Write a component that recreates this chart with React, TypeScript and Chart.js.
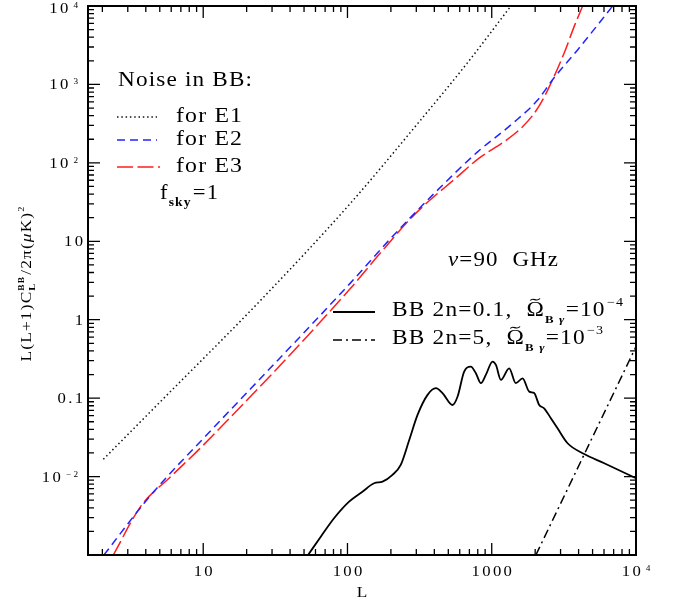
import React, { useEffect, useRef } from 'react';
import { Chart, registerables } from 'chart.js';
Chart.register(...registerables);

const FONT = '"Liberation Serif", "Times New Roman", serif';

// ---- data ----
const e1L = [2.03, 4.81, 25.8, 105, 322, 662, 1358];
const e1C = [0.0166, 0.0824, 1.88, 30.6, 353, 1780, 10000];

const e2L = [2.05, 3.89, 5.5, 10, 105, 205, 399, 798, 1358, 2080, 2640, 3936, 6890];
const e2C = [0.001, 0.00457, 0.00955, 0.0305, 2.95, 11.5, 40.7, 138, 305, 631, 1148, 2754, 10000];

const e3L = [2.38, 3.69, 5.96, 10, 105, 161, 290, 579, 818, 1219, 1592, 1968, 2249, 2640, 3177, 3730, 4266];
const e3C = [0.001, 0.00417, 0.0100, 0.0251, 2.51, 6.38, 21.7, 66.8, 115, 186, 275, 427, 631, 1148, 2512, 5495, 10000];

const bb1L = [53.3, 65.3, 80.7, 102.6, 127, 153, 175, 205, 234, 268, 306, 359, 410, 456, 535, 579, 644, 716, 776, 841, 910, 1013, 1069, 1157, 1321, 1469, 1636, 1819, 1968, 2133, 2307, 2570, 2858, 3356, 4375, 6025, 10000];
const bb1C = [0.001, 0.00171, 0.00294, 0.00479, 0.00641, 0.00822, 0.00861, 0.0105, 0.0141, 0.0293, 0.0611, 0.110, 0.134, 0.116, 0.0818, 0.104, 0.218, 0.252, 0.208, 0.155, 0.198, 0.292, 0.265, 0.171, 0.240, 0.155, 0.179, 0.121, 0.116, 0.0818, 0.0743, 0.0555, 0.0413, 0.0266, 0.0194, 0.0148, 0.00951];

const bb2L = [2023, 10000];
const bb2C = [0.001, 0.454];

const xTickVals = [10, 100, 1000, 10000];
const xTickBase = ['10', '100', '1000', '10'];
const xTickExp = ['', '', '', '4'];

const yTickVals = [0.01, 0.1, 1, 10, 100, 1000, 10000];
const yTickBase = ['10', '0.1', '1', '10', '10', '10', '10'];
const yTickExp = ['\u22122', '', '', '', '2', '3', '4'];

const BLUE = '#2323ff';
const RED = '#ff1e1e';

type Part = { t: string; s: number; dy?: number; b?: boolean; it?: boolean; na?: boolean; tilde?: boolean; gx?: number };

function pf(p: Part) {
  return `${p.it ? 'italic ' : ''}${p.b ? 'bold ' : ''}${p.s}px ${FONT}`;
}

function measureParts(ctx: CanvasRenderingContext2D, parts: Part[], ls: number) {
  let w = 0;
  let pend = 0;
  for (const p of parts) {
    ctx.font = pf(p);
    let pw = p.gx || 0;
    for (const ch of p.t) pw += ctx.measureText(ch).width + ls;
    if (p.na) {
      pend = pw;
      continue;
    }
    w += Math.max(pw, pend);
    pend = 0;
  }
  return w - ls;
}

function drawParts(
  ctx: CanvasRenderingContext2D,
  parts: Part[],
  x: number,
  y: number,
  opts: { ls?: number; width?: number; sx?: number; align?: 'left' | 'center' | 'right' }
) {
  const ls = opts.ls ?? 1;
  const raw = measureParts(ctx, parts, ls);
  const sx = opts.width ? opts.width / raw : opts.sx ?? 1;
  const total = raw * sx;
  const align = opts.align ?? 'left';
  const startX = align === 'center' ? x - total / 2 : align === 'right' ? x - total : x;
  ctx.save();
  ctx.translate(startX, y);
  ctx.scale(sx, 1);
  ctx.textAlign = 'left';
  ctx.textBaseline = 'alphabetic';
  let cx = 0;
  let pend = 0;
  for (const p of parts) {
    ctx.font = pf(p);
    const x0 = cx;
    cx += p.gx || 0;
    const gStart = cx;
    for (const ch of p.t) {
      ctx.fillText(ch, cx, p.dy || 0);
      cx += ctx.measureText(ch).width + ls;
    }
    if (p.tilde) {
      const gw = cx - ls - gStart;
      const ty = (p.dy || 0) - p.s * 0.8;
      ctx.save();
      ctx.lineWidth = 1.1;
      ctx.setLineDash([]);
      ctx.beginPath();
      ctx.moveTo(gStart + gw * 0.22, ty + 0.5);
      ctx.bezierCurveTo(gStart + gw * 0.4, ty - 3.5, gStart + gw * 0.55, ty + 3, gStart + gw * 0.78, ty - 1.5);
      ctx.stroke();
      ctx.restore();
    }
    if (p.na) {
      pend = cx - x0;
      cx = x0;
      continue;
    }
    if (pend) {
      cx = x0 + Math.max(cx - x0, pend);
      pend = 0;
    }
  }
  ctx.restore();
}

const overlay = {
  id: 'overlay',
  afterDraw(chart: any) {
    const ctx: CanvasRenderingContext2D = chart.ctx;
    const xs = chart.scales.x;
    const ys = chart.scales.y;
    const { left, right, top, bottom } = chart.chartArea;
    ctx.save();
    ctx.fillStyle = '#000';
    ctx.strokeStyle = '#000';
    ctx.setLineDash([]);

    // ticks
    ctx.lineWidth = 1.3;
    ctx.beginPath();
    for (let k = -3; k <= 4; k++) {
      for (let m = 1; m <= 9; m++) {
        const v = m * Math.pow(10, k);
        const len = m === 1 ? 12 : 6;
        if (v >= xs.min && v <= xs.max * 1.0001) {
          const px = xs.getPixelForValue(v);
          ctx.moveTo(px, bottom);
          ctx.lineTo(px, bottom - len);
          ctx.moveTo(px, top);
          ctx.lineTo(px, top + len);
        }
        if (v >= ys.min * 0.9999 && v <= ys.max * 1.0001) {
          const py = ys.getPixelForValue(v);
          ctx.moveTo(left, py);
          ctx.lineTo(left + len, py);
          ctx.moveTo(right, py);
          ctx.lineTo(right - len, py);
        }
      }
    }
    ctx.stroke();

    // frame
    ctx.lineWidth = 2;
    ctx.strokeRect(left, top, right - left, bottom - top);

    // tick labels
    const TS = 14.5;
    xTickVals.forEach((v, i) => {
      const px = xs.getPixelForValue(v);
      const parts: Part[] = [{ t: xTickBase[i], s: TS }];
      if (xTickExp[i]) parts.push({ t: xTickExp[i], s: 7.5, dy: -5, gx: 2.5 });
      drawParts(ctx, parts, px, 575.7, { ls: 2, sx: 1.15, align: 'center' });
    });
    yTickVals.forEach((v, i) => {
      const py = ys.getPixelForValue(v);
      const base = Math.max(py + 5, 13);
      if (yTickExp[i]) {
        drawParts(ctx, [{ t: yTickBase[i], s: TS }, { t: yTickExp[i], s: 8, dy: -5, gx: 2.5 }], 78, base, { ls: 2, sx: 1.15, align: 'right' });
      } else {
        drawParts(ctx, [{ t: yTickBase[i], s: TS }], 83, base, { ls: 2, sx: 1.15, align: 'right' });
      }
    });

    // axis titles
    drawParts(ctx, [{ t: 'L', s: 15 }], (left + right) / 2, 597, { sx: 1.15, align: 'center' });
    ctx.save();
    ctx.translate(31, 284);
    ctx.rotate(-Math.PI / 2);
    drawParts(
      ctx,
      [
        { t: 'L(L+1)C', s: 15 },
        { t: 'BB', s: 8, dy: -7, b: true, na: true },
        { t: 'L', s: 9, dy: 4, b: true },
        { t: '/2\u03c0(', s: 15, gx: 1 },
        { t: '\u03bc', s: 15, it: true },
        { t: 'K)', s: 15 },
        { t: '2', s: 9, dy: -7 },
      ],
      0,
      0,
      { ls: 1, align: 'center', width: 155 }
    );
    ctx.restore();

    // legend: noise
    drawParts(ctx, [{ t: 'Noise in BB:', s: 20 }], 118, 86, { width: 134 });
    const legLine = (x0: number, x1: number, y: number, color: string, w: number, dash: number[]) => {
      ctx.save();
      ctx.strokeStyle = color;
      ctx.lineWidth = w;
      ctx.setLineDash(dash);
      ctx.beginPath();
      ctx.moveTo(x0, y);
      ctx.lineTo(x1, y);
      ctx.stroke();
      ctx.restore();
    };
    legLine(117, 157, 117, '#111', 1.5, [1.5, 2.8]);
    legLine(117, 157, 140, BLUE, 1.5, [8, 5]);
    legLine(117, 160, 167, RED, 1.5, [16, 4.5]);
    drawParts(ctx, [{ t: 'for E1', s: 20 }], 176, 122, { width: 66 });
    drawParts(ctx, [{ t: 'for E2', s: 20 }], 176, 145, { width: 66 });
    drawParts(ctx, [{ t: 'for E3', s: 20 }], 176, 172, { width: 66 });
    drawParts(ctx, [{ t: 'f', s: 20 }, { t: 'sky', s: 12, dy: 7, b: true }, { t: '=1', s: 20, gx: 1 }], 160, 199, { width: 58 });

    drawParts(ctx, [{ t: '\u03bd', s: 20, it: true }, { t: '=90  GHz', s: 20 }], 448, 266, { width: 110 });

    // legend: signals
    legLine(333, 375, 312, '#000', 1.8, []);
    legLine(333, 375, 340, '#000', 1.5, [9, 4, 2, 4]);
    drawParts(
      ctx,
      [
        { t: 'BB 2n=0.1,  ', s: 20 },
        { t: '\u03a9', s: 20, tilde: true },
        { t: 'B ', s: 11, dy: 7, b: true },
        { t: '\u03b3', s: 11, dy: 7, b: true, it: true },
        { t: '=10', s: 20 },
        { t: '\u22124', s: 12, dy: -10, gx: 1 },
      ],
      392,
      316,
      { width: 231 }
    );
    drawParts(
      ctx,
      [
        { t: 'BB 2n=5,  ', s: 20 },
        { t: '\u03a9', s: 20, tilde: true },
        { t: 'B ', s: 11, dy: 7, b: true },
        { t: '\u03b3', s: 11, dy: 7, b: true, it: true },
        { t: '=10', s: 20 },
        { t: '\u22123', s: 12, dy: -10, gx: 1 },
      ],
      392,
      344,
      { width: 211 }
    );

    ctx.restore();
  },
};

function pts(L: number[], C: number[]) {
  return L.map((x, i) => ({ x, y: C[i] }));
}

export default function App() {
  const ref = useRef<HTMLCanvasElement>(null);
  useEffect(() => {
    const chart = new Chart(ref.current as HTMLCanvasElement, {
      type: 'line',
      data: {
        datasets: [
          { data: pts(e1L, e1C), borderColor: '#111', borderWidth: 1.5, borderDash: [1.5, 2.8], cubicInterpolationMode: 'monotone' },
          { data: pts(e2L, e2C), borderColor: BLUE, borderWidth: 1.5, borderDash: [8, 5], cubicInterpolationMode: 'monotone' },
          { data: pts(e3L, e3C), borderColor: RED, borderWidth: 1.5, borderDash: [16, 4.5], cubicInterpolationMode: 'monotone' },
          { data: pts(bb1L, bb1C), borderColor: '#000', borderWidth: 1.8, cubicInterpolationMode: 'monotone' },
          { data: pts(bb2L, bb2C), borderColor: '#000', borderWidth: 1.5, borderDash: [9, 4, 2, 4] },
        ] as any,
      },
      options: {
        animation: false,
        responsive: false,
        maintainAspectRatio: false,
        events: [],
        layout: { padding: { left: 88, right: 41, top: 6, bottom: 50 } },
        elements: { point: { radius: 0 }, line: { fill: false } },
        plugins: { legend: { display: false }, tooltip: { enabled: false }, title: { display: false } },
        scales: {
          x: { type: 'logarithmic', min: 1.59, max: 10000, display: false },
          y: { type: 'logarithmic', min: 0.001, max: 10000, display: false },
        },
      } as any,
      plugins: [overlay],
    });
    return () => chart.destroy();
  }, []);
  return (
    <div style={{ position: 'absolute', left: 0, top: 0, width: 677, height: 605, background: '#fff' }}>
      <canvas ref={ref} width={677} height={605} style={{ width: 677, height: 605, display: 'block' }} />
    </div>
  );
}
